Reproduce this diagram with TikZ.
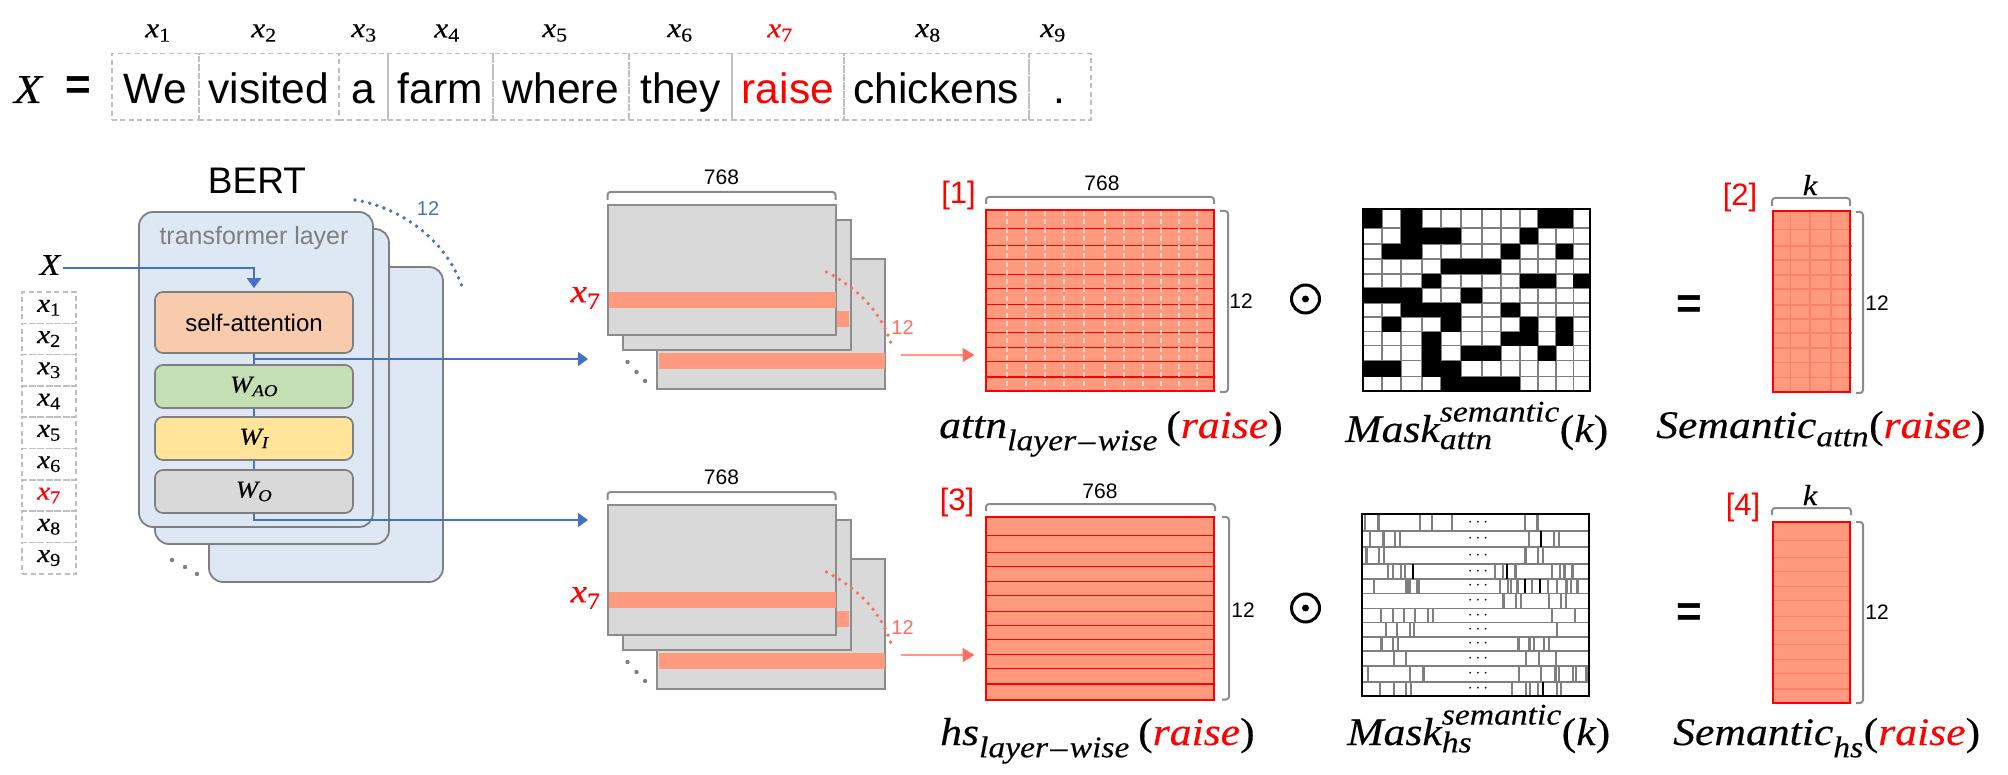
\documentclass[tikz,border=0pt]{standalone}
\usepackage{amsmath}
\usepackage{fontspec}
\setmainfont{Liberation Sans}
\newfontfamily\serifface{Liberation Serif}[FakeStretch=1.12,FakeBold=0.25]
\usetikzlibrary{arrows.meta,calc}
\DeclareMathSizes{39}{39}{30}{24}
\newcommand{\mvar}[1]{\text{\serifface\itshape #1}}
\newcommand{\upv}[1]{\text{\serifface #1}}
\newcommand{\fsize}[1]{\fontsize{#1}{#1}\selectfont}
\newcommand{\layerwise}{\mvar{layer\kern.08em–\kern.08em wise}}
\definecolor{layerblue}{HTML}{DEE8F4}
\definecolor{edgegrey}{HTML}{7F7F7F}
\definecolor{dashgrey}{HTML}{BFBFBF}
\definecolor{sheetgrey}{HTML}{D9D9D9}
\definecolor{linkblue}{HTML}{4472C4}
\definecolor{salmon}{HTML}{FF9A7E}
\definecolor{softred}{HTML}{FF6F61}
\definecolor{gridred}{HTML}{FF7F6E}
\definecolor{attnfill}{HTML}{F7CBAC}
\definecolor{aofill}{HTML}{C5DFB4}
\definecolor{ifill}{HTML}{FFE499}
\tikzset{
  wordbox/.style={draw=dashgrey, line width=1.7pt, dash pattern=on 5pt off 3.5pt, anchor=north west, inner sep=0pt, text height=50.3pt, text depth=16pt, font=\fsize{42.5}},
  tokenbox/.style={draw=dashgrey, line width=1.5pt, dash pattern=on 5pt off 3.5pt, inner sep=0pt, minimum width=54pt, minimum height=31.3pt, font=\fsize{26}},
  layerbox/.style={draw=edgegrey, fill=layerblue, line width=1.8pt, rounded corners=14pt, inner sep=0pt, minimum width=234pt, minimum height=315pt},
  unitbox/.style={draw=edgegrey, line width=1.7pt, rounded corners=8pt, inner sep=0pt, minimum width=198pt, font=\fsize{24}},
  sheet/.style={draw=edgegrey!90, fill=sheetgrey, line width=2pt, inner sep=0pt, minimum width=228.5pt, minimum height=130pt},
  bluelink/.style={linkblue, line width=2pt},
  bluearrow/.style={bluelink, -{Triangle[width=14pt,length=10pt]}},
  redarrow/.style={salmon, line width=1.6pt, -{Triangle[width=14pt,length=12pt,color=softred]}},
  dotarc/.style={line width=3.8pt, line cap=round, dash pattern=on 0pt off 7.5pt},
  sizeline/.style={draw=edgegrey!90, line width=2pt, rounded corners=3pt},
  bluedots/.style={dotarc, linkblue},
  reddots/.style={dotarc, softred},
  greydots/.style={fill=edgegrey},
  tag/.style={text=red, font=\fsize{31}, inner sep=0pt},
  dimtext/.style={font=\fsize{21}, inner sep=0pt},
  eqtext/.style={font=\fsize{44}\bfseries, inner sep=0pt},
  formula/.style={anchor=base west, inner sep=0pt, font=\fsize{39}},
  onedot/.style={circle, draw, line width=3pt, minimum size=28pt, inner sep=0pt},
  cdotsnode/.style={inner sep=0pt, font=\fsize{17}}
}
\def\rowlist{18.7,35.3,49.3,64.3,78.3,94.3,108.3,122.3,137.3,151.7,167}
\begin{document}
\begin{tikzpicture}[x=1pt,y=-1pt]
\useasboundingbox (0,0) rectangle (2008,775);
% sentence
\node[inner sep=0pt, anchor=base, font=\fsize{41}] (bigX) at (28,103) {$\mvar{X}$};
\node[eqtext] (bigeq) at (78,88) {=};
\node[wordbox, minimum width=87pt] (w1) at (111,52.7) {We};
\node[wordbox, minimum width=140pt] (w2) at (198,52.7) {visited};
\node[wordbox, minimum width=49pt] (w3) at (338,52.7) {a};
\node[wordbox, minimum width=105pt] (w4) at (387,52.7) {farm};
\node[wordbox, minimum width=136pt] (w5) at (492,52.7) {where};
\node[wordbox, minimum width=103pt] (w6) at (628,52.7) {they};
\node[wordbox, minimum width=112pt, text=red] (w7) at (731,52.7) {raise};
\node[wordbox, minimum width=185pt] (w8) at (843,52.7) {chickens};
\node[wordbox, minimum width=62pt] (w9) at (1028,52.7) {.};
\foreach \n/\px in {1/158,2/264,3/364,4/447,5/555,6/680,8/928,9/1053}
  \node[inner sep=0pt, font=\fsize{28}] (top\n) at (\px,33) {$\mvar{x}_{\upv{\n}}$};
\node[inner sep=0pt, font=\fsize{28}, text=red] (top7) at (780,33) {$\mvar{x}_{\upv{7}}$};
% layers
\node[layerbox] (layer3) at (326,424.5) {};
\node[layerbox] (layer2) at (272,386.5) {};
\node[layerbox] (layer1) at (256,369.5) {};
\node[inner sep=0pt, font=\fsize{37}] (bert) at (257,181) {BERT};
\node[inner sep=0pt, font=\fsize{25}, text=edgegrey] (layername) at (254,238) {transformer layer};
\node[unitbox, fill=attnfill, minimum height=61pt] (selfattn) at (254,322.5) {self-attention};
\node[unitbox, fill=aofill, minimum height=43pt] (wao) at (254,386.5) {$\mvar{W}_{\mvar{AO}}$};
\node[unitbox, fill=ifill, minimum height=43pt] (wi) at (254,438.5) {$\mvar{W}_{\mvar{I}}$};
\node[unitbox, fill=sheetgrey, minimum height=43pt] (wo) at (254,491.5) {$\mvar{W}_{\mvar{O}}$};
\foreach \px/\py in {172/560,185/567,197/574}
  \fill[greydots] (\px,\py) circle (2.2);
\draw[bluedots] (355,200) .. controls (405,208) and (450,245) .. (463,290);
\node[inner sep=0pt, font=\fsize{20}, text=linkblue] (bluetwelve) at (428,209) {12};
% tokens
\node[inner sep=0pt, font=\fsize{30}] (smallX) at (50,265) {$\mvar{X}$};
\node[tokenbox] (tok1) at (49,307.7) {$\mvar{x}_{\upv{1}}$};
\node[tokenbox] (tok2) at (49,339) {$\mvar{x}_{\upv{2}}$};
\node[tokenbox] (tok3) at (49,370.3) {$\mvar{x}_{\upv{3}}$};
\node[tokenbox] (tok4) at (49,401.6) {$\mvar{x}_{\upv{4}}$};
\node[tokenbox] (tok5) at (49,432.9) {$\mvar{x}_{\upv{5}}$};
\node[tokenbox] (tok6) at (49,464.2) {$\mvar{x}_{\upv{6}}$};
\node[tokenbox, text=red] (tok7) at (49,495.5) {$\mvar{x}_{\upv{7}}$};
\node[tokenbox] (tok8) at (49,526.8) {$\mvar{x}_{\upv{8}}$};
\node[tokenbox] (tok9) at (49,558.1) {$\mvar{x}_{\upv{9}}$};
% links
\coordinate (xstart) at (63,268);
\coordinate (hiddenA) at (588,359);
\coordinate (hiddenB) at (588,520);
\draw[bluearrow, shorten >=3pt] (xstart) -| (selfattn.north);
\draw[bluelink] (selfattn.south) -- (wao.north);
\draw[bluelink] (wao.south) -- (wi.north);
\draw[bluelink] (wi.south) -- (wo.north);
\draw[bluearrow] (selfattn.south) |- (hiddenA);
\draw[bluearrow] (wo.south) |- (hiddenB);
% sheet stacks
\foreach \s/\dy in {A/0,B/300} {
  \begin{scope}[shift={(1.5,\dy)}]
  \node[sheet] (back\s) at (769.3,323.8) {};
  \node[sheet] (mid\s) at (735.3,285.3) {};
  \node[sheet] (front\s) at (720.5,270) {};
  \fill[salmon] (607,292) rectangle (834,308);
  \fill[salmon] (835.5,311) rectangle (847,327);
  \fill[salmon] (657,353) rectangle (883,369);
  \draw[sizeline] (606,200) -- (606,192) -- (834,192) -- (834,200);
  \node[dimtext] (dim\s) at (720,177) {768};
  \node[inner sep=0pt, font=\fsize{33}, text=red] (row\s) at (584,298) {$\mvar{x}_{\upv{7}}$};
  \draw[reddots] (825,272) .. controls (855,288) and (880,310) .. (891,348);
  \node[inner sep=0pt, font=\fsize{20}, text=softred] (red\s) at (901,328) {12};
  \coordinate (from\s) at (899,355);
  \coordinate (to\s) at (973,355);
  \draw[redarrow] (from\s) -- (to\s);
  \fill[greydots] (626,362) circle (2.2);
  \fill[greydots] (635,372) circle (2.2);
  \fill[greydots] (643.6,381) circle (2.2);
  \end{scope}
}
% layer-wise matrix, attention
\fill[salmon] (986,210) rectangle (1213.5,391);
\foreach \d in \rowlist
  \draw[red, line width=1.4pt] (986,210+\d) -- (1213.5,210+\d);
\foreach \px in {1007,1026,1045,1064,1084,1105,1124,1143,1161,1179,1197}
  \draw[white, opacity=.6, line width=1.5pt, dash pattern=on 5pt off 3.5pt] (\px,211) -- (\px,390);
\draw[red, line width=2pt] (986,210) rectangle (1213.5,391);
\draw[sizeline] (986,204) -- (986,197) -- (1214,197) -- (1214,204);
\node[dimtext] (dimC) at (1102,183) {768};
\draw[sizeline] (1220,211) -- (1228,211) -- (1228,392) -- (1220,392);
\node[dimtext] (twelveC) at (1241,301) {12};
\node[tag] (tag1) at (958.6,195) {[1]};
\node[onedot] (odotA) at (1305.5,299) {};
\fill (odotA) circle (3.5);
% attention mask
\def\colx{{1363.3,1381.7,1400.7,1421.7,1441,1461,1481.7,1500.7,1520,1537.7,1555.7,1573.3,1590}}
\def\rowy{{209,228.3,244.3,259,274,288.3,303.3,317.3,331.7,345.7,360.7,376.7,390.7}}
\fill[white] (1363.3,209) rectangle (1590,390.7);
\foreach \i in {1,...,11} {
  \pgfmathsetmacro\xa{\colx[\i]}
  \pgfmathsetmacro\ya{\rowy[\i]}
  \draw[edgegrey, line width=1.6pt] (\xa,209) -- (\xa,390.7);
  \draw[edgegrey, line width=1.6pt] (1363.3,\ya) -- (1590,\ya);
}
\foreach \r/\a/\b in {0/0/1,0/2/3,0/9/11,1/2/5,1/8/9,2/1/3,2/7/8,2/10/11,3/4/7,4/3/4,4/8/10,4/11/12,5/0/3,5/5/6,6/2/5,6/7/8,7/1/2,7/4/5,7/8/9,7/10/11,8/3/4,8/7/9,8/10/11,9/3/4,9/5/7,9/9/10,10/0/2,10/3/5,11/4/8} {
  \pgfmathsetmacro\xa{\colx[\a]}
  \pgfmathsetmacro\xb{\colx[\b]}
  \pgfmathsetmacro\ya{\rowy[\r]}
  \pgfmathsetmacro\yb{\rowy[\r+1]}
  \fill[black] (\xa,\ya) rectangle (\xb,\yb);
}
\draw[black, line width=2.2pt] (1363.3,209) rectangle (1590,390.7);
% semantic result, attention
\fill[salmon] (1773,210.7) rectangle (1850,392);
\foreach \d in \rowlist
  \draw[gridred, line width=1.4pt] (1773,210.7+\d) -- (1852,210.7+\d);
\foreach \px in {1790.7,1810,1831}
  \draw[gridred, line width=1.4pt] (\px,210.7) -- (\px,392);
\draw[red, line width=2pt] (1773,210.7) rectangle (1850,392);
\draw[sizeline] (1772,206) -- (1772,198) -- (1850,198) -- (1850,206);
\node[inner sep=0pt, font=\fsize{29}] (kA) at (1810,185) {$\mvar{k}$};
\draw[sizeline] (1856,212) -- (1863,212) -- (1863,393) -- (1856,393);
\node[dimtext] (twelveD) at (1877,303) {12};
\node[tag] (tag2) at (1740,197) {[2]};
\node[eqtext] (eqA) at (1689,307) {=};
% formulas
\node[formula] (f1) at (939,438) {$\mvar{attn}_{\layerwise}\mkern6mu\upv{(}\textcolor{red}{\mvar{raise}}\upv{)}$};
\node[formula] (f2) at (1345,442) {$\mvar{Mask}_{\mvar{\raisebox{-1pt}{attn}}}^{\mvar{\raisebox{3pt}{semantic}}}\upv{(}\mvar{k}\upv{)}$};
\node[formula] (f3) at (1656,438) {$\mvar{Semantic}_{\mvar{attn}}\upv{(}\textcolor{red}{\mvar{raise}}\upv{)}$};
% layer-wise matrix, hidden state
\fill[salmon] (986,517) rectangle (1213.5,699.5);
\foreach \d in \rowlist
  \draw[red, line width=1.4pt] (986,517+\d) -- (1213.5,517+\d);
\draw[red, line width=2pt] (986,517) rectangle (1213.5,699.5);
\draw[sizeline] (986,511) -- (986,504) -- (1215,504) -- (1215,511);
\node[dimtext] (dimE) at (1100,491) {768};
\draw[sizeline] (1222,517) -- (1229,517) -- (1229,699.5) -- (1222,699.5);
\node[dimtext] (twelveE) at (1243,610) {12};
\node[tag] (tag3) at (957,502) {[3]};
\node[onedot] (odotB) at (1305.5,608) {};
\fill (odotB) circle (3.5);
% hidden state mask
\begin{scope}[shift={(1362,514)}]
\fill[white] (0,0) rectangle (227,181.7);
\foreach \d in {16.7,32.7,50,65,79.3,94.3,108.3,122.7,136.7,151.7,167.7}
  \draw[edgegrey, line width=1.6pt] (0,\d) -- (227,\d);
\foreach \r/\ya/\yb/\bars in {
  0/0/16.7/{3.3,57.7,69.7,89.7,162.7},
  1/16.7/32.7/{8.3,32.7,37.7,167.3,191.7,196.7},
  2/32.7/50/{16.7,21.7,175.7,180.7},
  3/50/65/{25.7,30.7,38.7,42.7,132.7,140.7,189.7,197.7},
  4/65/79.3/{11.7,137.7,145.7,148.7,169.7,185.7,194.7,208.7},
  5/79.3/94.3/{153.7,158.7,187,198.7,203.7},
  6/94.3/108.3/{18.7,30.7,41.7,52.7,65.7,70.7,189.7,212.7},
  7/108.3/122.7/{23.7,34.7,47.7,51.7,194.7},
  8/122.7/136.7/{31.3,35.7,171.7,181.7,186.7},
  9/136.7/151.7/{31.7,43.7,163.7,176.7,193.7},
  10/151.7/167.7/{5.7,47.7,156.7,178.7,196.7,210.7,213.7},
  11/167.7/181.7/{17.7,31.7,43.7,48.7,149.7,163.7,167.7,175.7,194.7,198.7}} {
  \foreach \px in \bars
    \draw[edgegrey, line width=1.7pt] (\px,\ya) -- (\px,\yb);
  \node[cdotsnode] (dots\r) at (117.5,{(\ya+\yb)/2}) {$\cdots$};
}
\foreach \px/\ya/\yb in {16.7/0/16.7,175.7/0/16.7,21.7/16.7/32.7,4.7/32.7/50,163.7/32.7/50,153.7/50/65,202.7/50/65,210.7/50/65,44.3/65/79.3,47.7/65/79.3,56/65/79.3,155.7/65/79.3,204.7/65/79.3,215.7/65/79.3,141.7/79.3/94.3,19.7/122.7/136.7,156.7/122.7/136.7,167.7/122.7/136.7,61.7/151.7/167.7,193.7/151.7/167.7,224.3/151.7/167.7}
  \draw[edgegrey, line width=3.5pt] (\px,\ya) -- (\px,\yb);
\foreach \px/\ya/\yb in {178.7/16.7/32.7,51.3/50/65,145/50/65,163/65/79.3,178/65/79.3,181.3/167.7/181.7}
  \draw[black, line width=1.7pt] (\px,\ya) -- (\px,\yb);
\draw[black, line width=2.2pt] (0,0) rectangle (227,181.7);
\end{scope}
% semantic result, hidden state
\fill[salmon] (1773,522) rectangle (1850,703);
\foreach \d in \rowlist
  \draw[gridred, line width=1.4pt] (1773,522+\d) -- (1850,522+\d);
\draw[red, line width=2pt] (1773,522) rectangle (1850,703);
\draw[sizeline] (1772,515) -- (1772,508) -- (1851,508) -- (1851,515);
\node[inner sep=0pt, font=\fsize{29}] (kB) at (1810,495) {$\mvar{k}$};
\draw[sizeline] (1856,522) -- (1863,522) -- (1863,703) -- (1856,703);
\node[dimtext] (twelveF) at (1877,612) {12};
\node[tag] (tag4) at (1743,507) {[4]};
\node[eqtext] (eqB) at (1689,615) {=};
% formulas
\node[formula] (f4) at (940,745) {$\mvar{hs}_{\layerwise}\mkern6mu\upv{(}\textcolor{red}{\mvar{raise}}\upv{)}$};
\node[formula] (f5) at (1347,745) {$\mvar{Mask}_{\mvar{\raisebox{-1pt}{hs}}}^{\mvar{\raisebox{3pt}{semantic}}}\upv{(}\mvar{k}\upv{)}$};
\node[formula] (f6) at (1673,745) {$\mvar{Semantic}_{\mvar{hs}}\upv{(}\textcolor{red}{\mvar{raise}}\upv{)}$};
\end{tikzpicture}
\end{document}
